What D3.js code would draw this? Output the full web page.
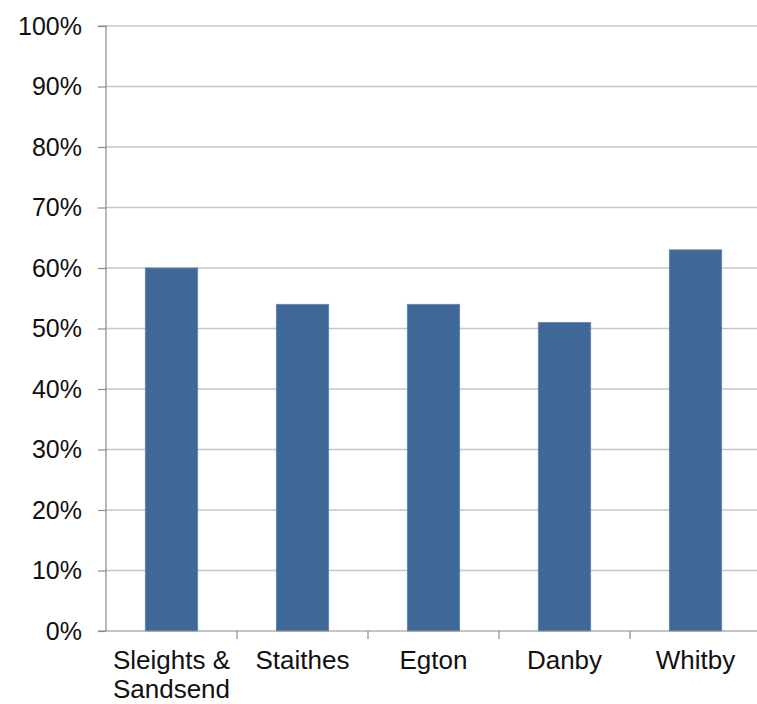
<!DOCTYPE html>
<html>
<head>
<meta charset="utf-8">
<script src="https://cdn.jsdelivr.net/npm/d3@7"></script>
<style>
  html, body { margin: 0; padding: 0; background: #fff; }
  svg { display: block; }
</style>
</head>
<body>
<svg id="chart" width="757" height="704"></svg>
<script>
const categories = ["Sleights & Sandsend", "Staithes", "Egton", "Danby", "Whitby"];
const categoryLines = [["Sleights &", "Sandsend"], ["Staithes"], ["Egton"], ["Danby"], ["Whitby"]];
const values = [0.60, 0.54, 0.54, 0.51, 0.63];
const yTicks = [0, 0.1, 0.2, 0.3, 0.4, 0.5, 0.6, 0.7, 0.8, 0.9, 1.0];

(function () {
const svg = d3.select("#chart");
const mLeft = 106, mRight = 761, mTop = 26, mBottom = 631;
const font = "'Liberation Sans', Arial, sans-serif";

const x = d3.scaleBand().domain(categories).range([mLeft, mRight]).padding(0);
const y = d3.scaleLinear().domain([0, 1]).range([mBottom, mTop]);

// gridlines
svg.append("g").selectAll("line").data(yTicks.filter(d => d > 0)).join("line")
  .attr("x1", mLeft).attr("x2", mRight)
  .attr("y1", d => y(d)).attr("y2", d => y(d))
  .attr("stroke", "#c6c6c6").attr("stroke-width", 1.5);

// bars
const bw = x.bandwidth() * 0.4;
svg.append("g").selectAll("rect").data(values).join("rect")
  .attr("x", (d, i) => x(categories[i]) + (x.bandwidth() - bw) / 2)
  .attr("y", d => y(d))
  .attr("width", bw)
  .attr("height", d => y(0) - y(d))
  .attr("fill", "#3f6898")
  .attr("stroke", "#5f83b0").attr("stroke-width", 0.8);

// y axis
const yAxis = d3.axisLeft(y).tickValues(yTicks).tickFormat(d3.format(".0%")).tickSize(8).tickPadding(16);
const ya = svg.append("g").attr("transform", `translate(${mLeft},0)`).call(yAxis);
ya.select(".domain").attr("stroke", "#8a8a8a").attr("stroke-width", 1.2).attr("d", `M-8,${mTop}H0V${mBottom}`);
ya.selectAll(".tick line").attr("stroke", "#8a8a8a").attr("stroke-width", 1.2);
ya.selectAll(".tick text").attr("font-family", font).attr("font-size", 25).attr("fill", "#111");

// x axis
const xa = svg.append("g");
xa.append("line").attr("x1", mLeft - 8).attr("x2", mRight).attr("y1", mBottom).attr("y2", mBottom)
  .attr("stroke", "#8a8a8a").attr("stroke-width", 1.2);
const bounds = categories.map(c => x(c)).concat([x(categories[categories.length - 1]) + x.bandwidth()]);
xa.selectAll("line.tk").data(bounds.slice(1)).join("line").attr("class", "tk")
  .attr("x1", d => d).attr("x2", d => d).attr("y1", mBottom).attr("y2", mBottom + 8)
  .attr("stroke", "#8a8a8a").attr("stroke-width", 1.2);
const lbl = xa.selectAll("text").data(categories).join("text")
  .attr("font-family", font).attr("font-size", 26).attr("fill", "#111")
  .attr("text-anchor", "middle");
lbl.each(function(c, i) {
  const t = d3.select(this);
  categoryLines[i].forEach((s, j) => {
    t.append("tspan").attr("x", x(c) + x.bandwidth() / 2).attr("y", 669 + j * 29).text(s);
  });
});
})();
</script>
</body>
</html>
